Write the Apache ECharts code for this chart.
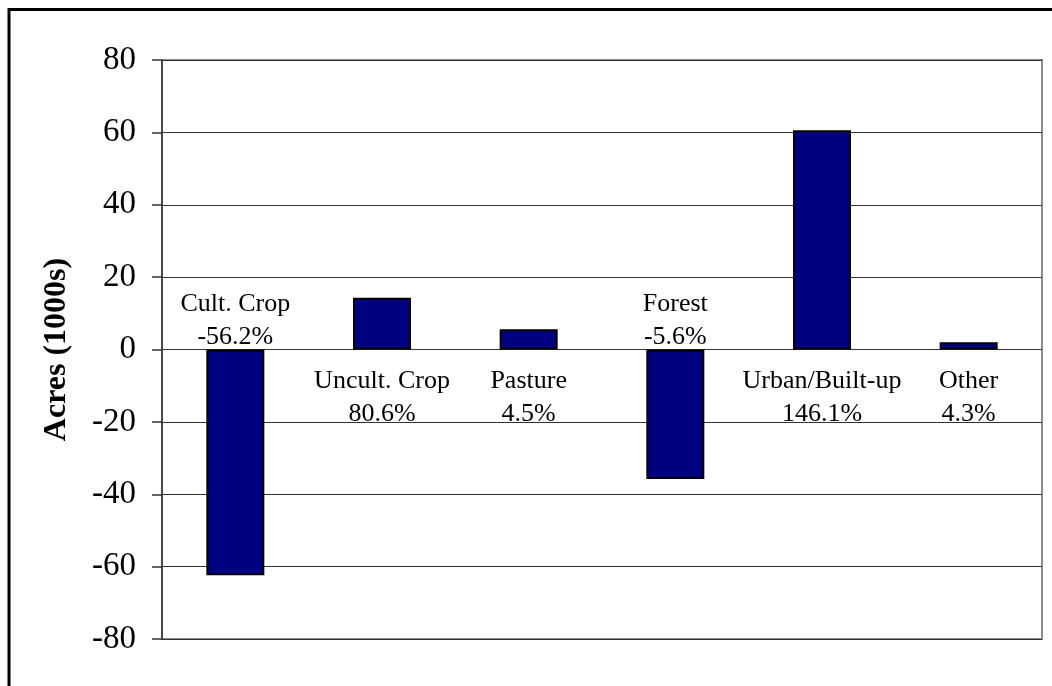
<!DOCTYPE html>
<html>
<head>
<meta charset="utf-8">
<script src="https://cdn.jsdelivr.net/npm/echarts@6/dist/echarts.min.js"></script>
<style>
html,body{margin:0;padding:0;background:#fff;}
#chart{width:1052px;height:686px;}
</style>
</head>
<body>
<div id="chart"></div>
<script>
var categories = ['Cult. Crop', 'Uncult. Crop', 'Pasture', 'Forest', 'Urban/Built-up', 'Other'];
var changes = [-62.4, 14.3, 5.6, -35.8, 60.6, 2.0];
var percents = ['-56.2%', '80.6%', '4.5%', '-5.6%', '146.1%', '4.3%'];
var yTicks = [-80, -60, -40, -20, 0, 20, 40, 60, 80];
var yTitle = 'Acres (1000s)';

var labelData = categories.map(function (c, i) {
  var neg = changes[i] < 0;
  return {
    value: [i, 0],
    label: neg
      ? { position: 'top', distance: 0, offset: [0, 4] }
      : { position: 'bottom', distance: 15 }
  };
});

var chart = echarts.init(document.getElementById('chart'), null, { renderer: 'canvas' });
chart.setOption({
  backgroundColor: '#fff',
  animation: false,
  graphic: [{
    type: 'rect',
    shape: { x: 9, y: 9.5, width: 1200, height: 1000 },
    style: { fill: 'none', stroke: '#000', lineWidth: 3 },
    z: 100
  }],
  grid: { left: 162, right: 10, top: 60, bottom: 47, show: true, borderColor: '#8c8c8c', borderWidth: 2, backgroundColor: 'transparent' },
  xAxis: {
    type: 'category',
    data: categories,
    axisLine: { show: false },
    axisTick: { show: false },
    axisLabel: { show: false },
    splitLine: { show: false }
  },
  yAxis: {
    type: 'value',
    min: yTicks[0],
    max: yTicks[yTicks.length - 1],
    interval: 20,
    name: yTitle,
    nameLocation: 'middle',
    nameGap: 89,
    nameRotate: 90,
    nameTextStyle: { fontFamily: 'Liberation Serif', fontWeight: 'bold', fontSize: 32, color: '#000' },
    axisLine: { show: true, lineStyle: { color: '#333', width: 1.5 } },
    axisTick: { show: true, length: 10, lineStyle: { color: '#333', width: 1.5 } },
    axisLabel: { fontFamily: 'Liberation Serif', fontSize: 33, color: '#000', margin: 26 },
    splitLine: { show: true, lineStyle: { color: '#333', width: 1 } }
  },
  series: [{
    type: 'bar',
    data: changes,
    barWidth: 58,
    itemStyle: { color: '#000080', borderColor: '#000', borderWidth: 2 },
    z: 3
  }, {
    type: 'scatter',
    data: labelData,
    symbolSize: 0,
    silent: true,
    z: 5,
    itemStyle: { opacity: 1 },
    label: {
      show: true,
      fontFamily: 'Liberation Serif',
      fontSize: 26,
      lineHeight: 33,
      color: '#000',
      opacity: 1,
      align: 'center',
      formatter: function (p) {
        var i = p.dataIndex;
        return categories[i] + '\n' + percents[i];
      }
    }
  }]
});
</script>
</body>
</html>
